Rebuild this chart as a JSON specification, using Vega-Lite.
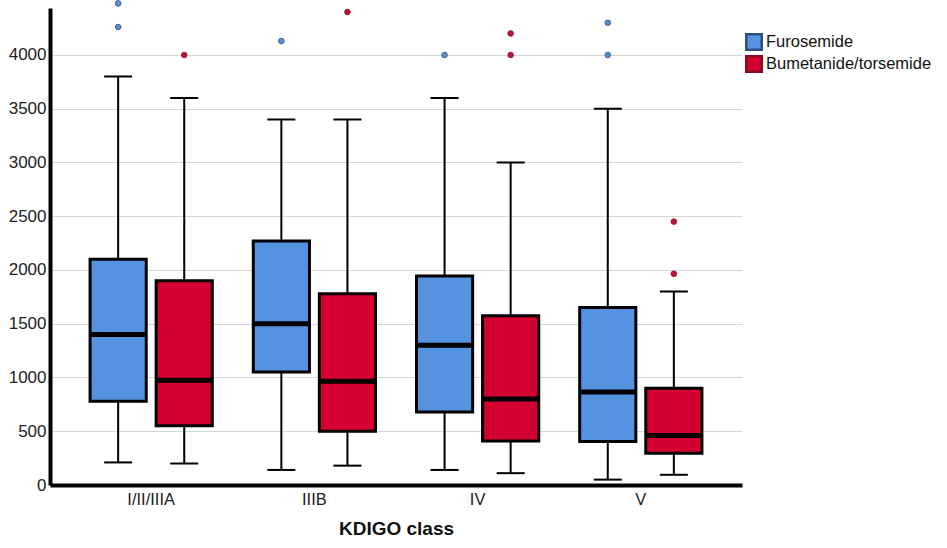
{
  "$schema": "https://vega.github.io/schema/vega-lite/v6.json",
  "width": 692,
  "height": 477,
  "autosize": "none",
  "padding": {"left": 50, "top": 8, "right": 205, "bottom": 63},
  "background": "white",
  "config": {
    "view": {"stroke": null},
    "font": "Liberation Sans"
  },
  "datasets": {
    "stats": [
      {"kdigo": "I/II/IIIA", "group": "Furosemide", "lower": 210, "q1": 780, "median": 1400, "q3": 2100, "upper": 3800},
      {"kdigo": "I/II/IIIA", "group": "Bumetanide/torsemide", "lower": 200, "q1": 550, "median": 975, "q3": 1900, "upper": 3600},
      {"kdigo": "IIIB", "group": "Furosemide", "lower": 140, "q1": 1050, "median": 1500, "q3": 2270, "upper": 3400},
      {"kdigo": "IIIB", "group": "Bumetanide/torsemide", "lower": 180, "q1": 500, "median": 965, "q3": 1780, "upper": 3400},
      {"kdigo": "IV", "group": "Furosemide", "lower": 140, "q1": 680, "median": 1300, "q3": 1945, "upper": 3600},
      {"kdigo": "IV", "group": "Bumetanide/torsemide", "lower": 110, "q1": 410, "median": 800, "q3": 1575, "upper": 3000},
      {"kdigo": "V", "group": "Furosemide", "lower": 50, "q1": 405, "median": 865, "q3": 1650, "upper": 3500},
      {"kdigo": "V", "group": "Bumetanide/torsemide", "lower": 95, "q1": 295, "median": 460, "q3": 900, "upper": 1800}
    ],
    "outliers": [
      {"kdigo": "I/II/IIIA", "group": "Furosemide", "value": 4260},
      {"kdigo": "I/II/IIIA", "group": "Furosemide", "value": 4480},
      {"kdigo": "I/II/IIIA", "group": "Bumetanide/torsemide", "value": 4000},
      {"kdigo": "IIIB", "group": "Furosemide", "value": 4130},
      {"kdigo": "IIIB", "group": "Bumetanide/torsemide", "value": 4400},
      {"kdigo": "IV", "group": "Furosemide", "value": 4000},
      {"kdigo": "IV", "group": "Bumetanide/torsemide", "value": 4000},
      {"kdigo": "IV", "group": "Bumetanide/torsemide", "value": 4200},
      {"kdigo": "V", "group": "Furosemide", "value": 4000},
      {"kdigo": "V", "group": "Furosemide", "value": 4300},
      {"kdigo": "V", "group": "Bumetanide/torsemide", "value": 2450},
      {"kdigo": "V", "group": "Bumetanide/torsemide", "value": 1965}
    ]
  },
  "encoding": {
    "x": {
      "field": "kdigo",
      "type": "nominal",
      "sort": ["I/II/IIIA", "IIIB", "IV", "V"],
      "scale": {"paddingInner": 0, "paddingOuter": 0.12},
      "axis": {
        "title": "KDIGO class",
        "titleFont": "Liberation Sans",
        "titleFontSize": 19,
        "titleFontWeight": "bold",
        "titleColor": "#111",
        "titlePadding": 12,
        "labelAngle": 0,
        "labelFont": "Liberation Sans",
        "labelFontSize": 16.5,
        "labelColor": "#222",
        "labelPadding": 6,
        "ticks": false,
        "domainColor": "black",
        "domainWidth": 4,
        "grid": false
      }
    },
    "xOffset": {
      "field": "group",
      "type": "nominal",
      "sort": ["Furosemide", "Bumetanide/torsemide"],
      "scale": {"paddingInner": 0.15, "paddingOuter": 0.31}
    }
  },
  "layer": [
    {
      "data": {"name": "stats"},
      "mark": {"type": "rule", "color": "black", "strokeWidth": 2},
      "encoding": {
        "y": {
          "field": "lower",
          "type": "quantitative",
          "scale": {"domain": [0, 4437], "nice": false, "zero": true},
          "axis": {
            "title": null,
            "format": "d",
            "values": [0, 500, 1000, 1500, 2000, 2500, 3000, 3500, 4000],
            "labelFont": "Liberation Sans",
            "labelFontSize": 17,
            "labelColor": "#222",
            "labelPadding": 4,
            "ticks": false,
            "domainColor": "black",
            "domainWidth": 4,
            "grid": true,
            "gridColor": "#d6d6d6",
            "gridWidth": 1.2
          }
        },
        "y2": {"field": "upper"}
      }
    },
    {
      "data": {"name": "stats"},
      "mark": {"type": "tick", "color": "black", "size": 28, "thickness": 2, "opacity": 1},
      "encoding": {"y": {"field": "lower", "type": "quantitative"}}
    },
    {
      "data": {"name": "stats"},
      "mark": {"type": "tick", "color": "black", "size": 28, "thickness": 2, "opacity": 1},
      "encoding": {"y": {"field": "upper", "type": "quantitative"}}
    },
    {
      "data": {"name": "stats"},
      "mark": {"type": "bar", "stroke": "black", "strokeWidth": 3, "opacity": 1},
      "encoding": {
        "y": {"field": "q1", "type": "quantitative"},
        "y2": {"field": "q3"},
        "color": {
          "field": "group",
          "type": "nominal",
          "sort": ["Furosemide", "Bumetanide/torsemide"],
          "scale": {"domain": ["Furosemide", "Bumetanide/torsemide"], "range": ["#5593E1", "#D40032"]},
          "legend": {
            "title": null,
            "orient": "none",
            "legendX": 695,
            "legendY": 25,
            "symbolType": "square",
            "symbolSize": 240,
            "symbolStrokeColor": "black",
            "symbolStrokeWidth": 2.5,
            "symbolOpacity": 1,
            "labelFont": "Liberation Sans",
            "labelFontSize": 16.5,
            "labelColor": "#111",
            "labelLimit": 0,
            "labelOffset": 3,
            "rowPadding": -5
          }
        }
      }
    },
    {
      "data": {"name": "stats"},
      "mark": {"type": "tick", "color": "black", "size": 55, "thickness": 5, "opacity": 1},
      "encoding": {"y": {"field": "median", "type": "quantitative"}}
    },
    {
      "data": {"name": "outliers"},
      "mark": {"type": "point", "filled": true, "size": 32, "strokeWidth": 0.8, "opacity": 1},
      "encoding": {
        "y": {"field": "value", "type": "quantitative"},
        "fill": {
          "field": "group",
          "type": "nominal",
          "scale": {"domain": ["Furosemide", "Bumetanide/torsemide"], "range": ["#5B8DD0", "#C0113A"]},
          "legend": null
        },
        "stroke": {
          "field": "group",
          "type": "nominal",
          "scale": {"domain": ["Furosemide", "Bumetanide/torsemide"], "range": ["#2F4F80", "#8A0A25"]},
          "legend": null
        }
      }
    }
  ]
}
